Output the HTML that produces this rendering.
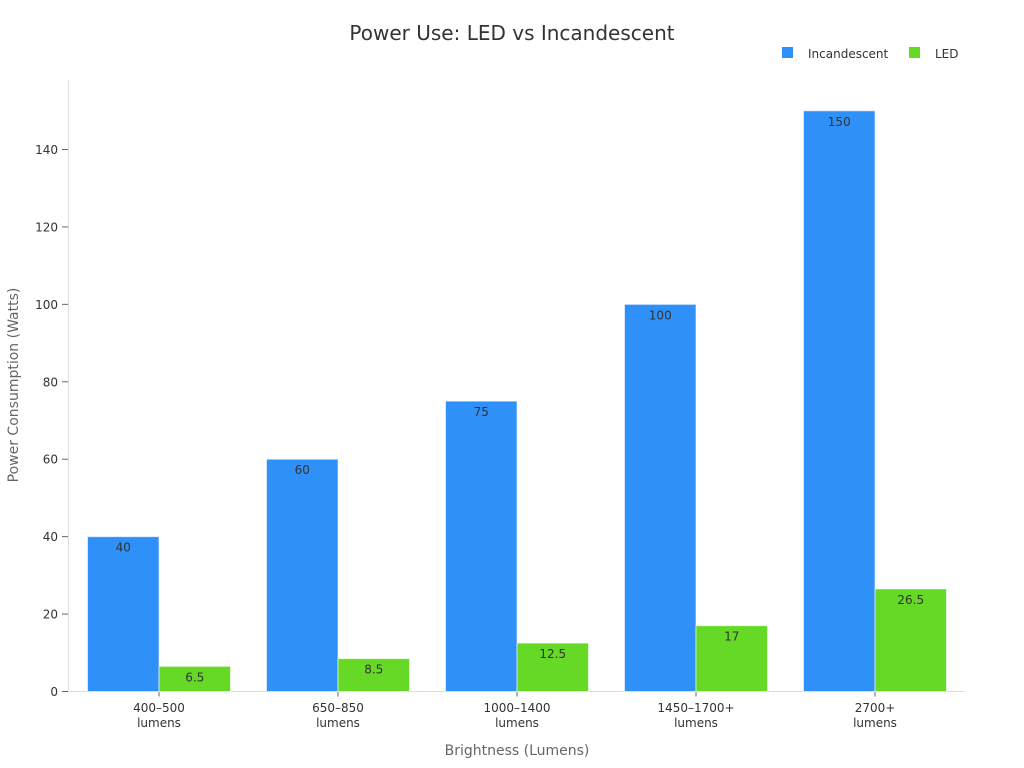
<!DOCTYPE html>
<html><head><meta charset="utf-8"><style>
html,body{margin:0;padding:0;background:#fff;}
svg{display:block;font-family:"DejaVu Sans","Liberation Sans",sans-serif;}
</style></head><body>
<svg id="chart" width="1024" height="768">
<text x="512" y="40" text-anchor="middle" font-size="20" fill="#333">Power Use: LED vs Incandescent</text>
<g>
<g><rect x="782" y="47" width="11" height="11" fill="#2f90f8"/><text x="808" y="58" font-size="12" fill="#333">Incandescent</text></g>
<g><rect x="909" y="47" width="11" height="11" fill="#65d925"/><text x="935" y="58" font-size="12" fill="#333">LED</text></g>
</g>
<text transform="translate(18,385) rotate(-90)" text-anchor="middle" font-size="14" fill="#666">Power Consumption (Watts)</text>
<text x="517" y="755" text-anchor="middle" font-size="14" fill="#666">Brightness (Lumens)</text>
<g id="axes"></g>
<g id="bars"></g>
</svg>
<script>
const categories = ["400–500|lumens","650–850|lumens","1000–1400|lumens","1450–1700+|lumens","2700+|lumens"];
const incandescent = [40,60,75,100,150];
const led = [6.5,8.5,12.5,17,26.5];
const yTicks = [0,20,40,60,80,100,120,140];

const NS="http://www.w3.org/2000/svg";
const x0=69.5, x1=964.5, y0=691.5, yPerUnit=(691-149)/140;
const y=v=>y0-v*yPerUnit;
const band=(x1-x0)/categories.length;
const axes=document.getElementById('axes'), bars=document.getElementById('bars');
function mk(tag,attrs,parent){const e=document.createElementNS(NS,tag);for(const k in attrs)e.setAttribute(k,attrs[k]);parent.appendChild(e);return e;}

const yl=mk('line',{x1:68.5,x2:68.5,y1:80,y2:y0,stroke:'#ddd'},axes);


const xl=mk('line',{x1:68,x2:x1,y1:y0,y2:y0,stroke:'#ddd'},axes);


yTicks.forEach(t=>{
  const g=mk('g',{},axes);
  
  
  mk('line',{x1:62,x2:68,y1:y(t),y2:y(t),stroke:'#666'},g);
  const tx=mk('text',{x:58,y:y(t)+4.5,'text-anchor':'end','font-size':12,fill:'#333'},g);
  tx.textContent=t;
});
categories.forEach((c,i)=>{
  const cx=x0+band*(i+0.5);
  const g=mk('g',{},axes);
  
  
  mk('line',{x1:cx,x2:cx,y1:y0,y2:y0+5,stroke:'#666'},g);
  c.split('|').forEach((ln,j)=>{const t=mk('text',{x:cx,y:712+j*15,'text-anchor':'middle','font-size':12,fill:'#333'},g);t.textContent=ln;});
  const bw=71.5;
  [[incandescent[i],'#2f90f8',cx-bw,'incandescent'],[led[i],'#65d925',cx,'led']].forEach(([v,col,bx,nm])=>{
    const bg=mk('g',{},bars);
    
    
    mk('rect',{x:bx,y:y(v),width:bw,height:y0-y(v),fill:col,stroke:'rgba(255,255,255,0.6)','stroke-width':1},bg);
    const t=mk('text',{x:bx+bw/2,y:y(v)+15,'text-anchor':'middle','font-size':12,fill:'#333'},bg);
    t.textContent=v;
  });
});
</script>
</body></html>
